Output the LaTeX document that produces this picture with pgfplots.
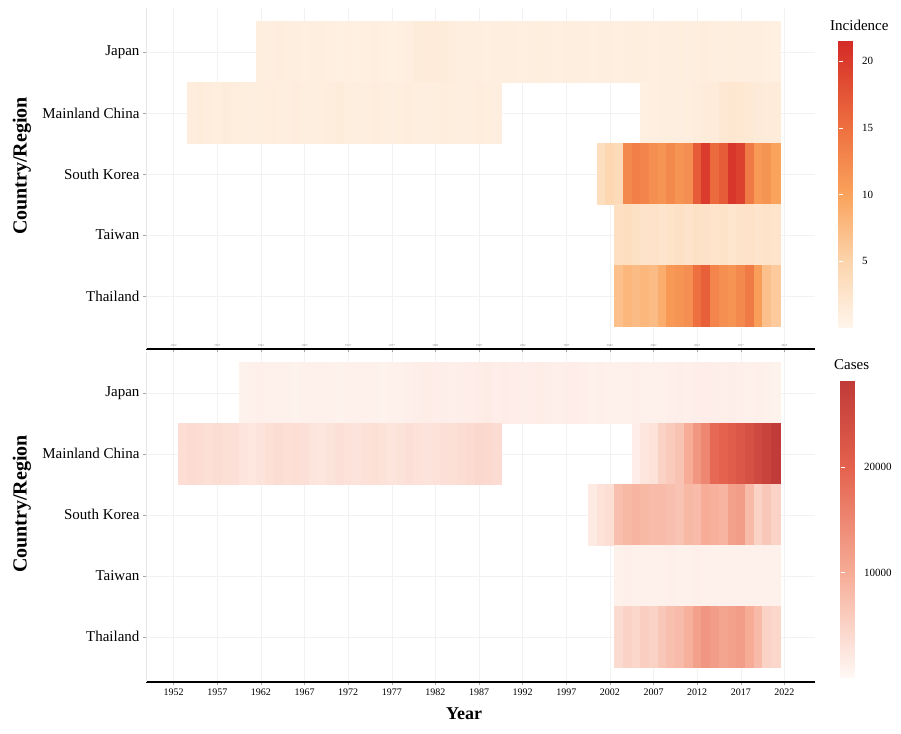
\documentclass[border=0pt]{standalone}
\usepackage{fontspec}
\setmainfont{Liberation Serif}
\usepackage{pgfplots}
\pgfplotsset{compat=1.18}
\usepackage{pgfplotstable}

\pgfplotsset{
  colormap={incid}{rgb255(0pt)=(255,245,236) rgb255(50pt)=(252,212,172) rgb255(100pt)=(250,163,92) rgb255(150pt)=(238,112,64) rgb255(216pt)=(212,42,38)},
  colormap={cases}{rgb255(0pt)=(255,249,246) rgb255(100pt)=(246,172,150) rgb255(200pt)=(228,98,78) rgb255(283pt)=(192,58,55)},
}

% row: Japan=5, Mainland China=4, South Korea=3, Taiwan=2, Thailand=1
\pgfplotstableread{
year row val
1962 5 1.1
1963 5 1.0
1964 5 1.2
1965 5 1.1
1966 5 1.0
1967 5 0.9
1968 5 1.0
1969 5 1.1
1970 5 0.9
1971 5 0.8
1972 5 0.9
1973 5 0.8
1974 5 0.9
1975 5 1.0
1976 5 0.9
1977 5 0.8
1978 5 0.9
1979 5 1.0
1980 5 1.3
1981 5 1.4
1982 5 1.5
1983 5 1.3
1984 5 1.2
1985 5 1.0
1986 5 1.1
1987 5 1.0
1988 5 0.9
1989 5 1.0
1990 5 1.1
1991 5 1.0
1992 5 0.9
1993 5 1.0
1994 5 1.1
1995 5 1.0
1996 5 0.9
1997 5 1.0
1998 5 1.1
1999 5 1.0
2000 5 0.9
2001 5 1.0
2002 5 1.0
2003 5 0.9
2004 5 1.0
2005 5 1.1
2006 5 1.0
2007 5 0.9
2008 5 1.0
2009 5 1.0
2010 5 1.1
2011 5 1.0
2012 5 1.1
2013 5 1.2
2014 5 1.1
2015 5 1.0
2016 5 1.1
2017 5 1.0
2018 5 1.0
2019 5 1.1
2020 5 0.9
2021 5 0.8
1954 4 1.2
1955 4 1.3
1956 4 1.2
1957 4 1.1
1958 4 1.3
1959 4 1.2
1960 4 1.1
1961 4 1.0
1962 4 1.1
1963 4 1.2
1964 4 1.1
1965 4 1.0
1966 4 1.2
1967 4 1.1
1968 4 1.0
1969 4 1.1
1970 4 1.2
1971 4 1.3
1972 4 1.1
1973 4 1.0
1974 4 1.1
1975 4 1.2
1976 4 1.1
1977 4 1.0
1978 4 1.1
1979 4 1.2
1980 4 1.1
1981 4 1.0
1982 4 1.1
1983 4 1.2
1984 4 1.1
1985 4 1.0
1986 4 1.1
1987 4 1.2
1988 4 1.1
1989 4 1.0
2006 4 0.8
2007 4 0.9
2008 4 1.0
2009 4 1.1
2010 4 1.0
2011 4 1.1
2012 4 1.2
2013 4 1.3
2014 4 1.5
2015 4 1.9
2016 4 2.1
2017 4 2.0
2018 4 1.8
2019 4 1.6
2020 4 1.4
2021 4 1.5
2001 3 3.5
2002 3 4.5
2003 3 4.0
2004 3 12.5
2005 3 13.5
2006 3 13.0
2007 3 12.0
2008 3 11.5
2009 3 12.5
2010 3 11.5
2011 3 12.0
2012 3 17.0
2013 3 20.0
2014 3 15.5
2015 3 17.0
2016 3 20.5
2017 3 19.5
2018 3 14.0
2019 3 11.0
2020 3 11.5
2021 3 10.0
2003 2 3.3
2004 2 3.5
2005 2 3.1
2006 2 2.7
2007 2 2.9
2008 2 2.5
2009 2 2.8
2010 2 3.0
2011 2 2.7
2012 2 3.1
2013 2 2.9
2014 2 2.6
2015 2 2.8
2016 2 2.4
2017 2 2.7
2018 2 2.9
2019 2 2.5
2020 2 2.7
2021 2 2.6
2003 1 7.0
2004 1 8.0
2005 1 7.5
2006 1 8.0
2007 1 7.5
2008 1 9.0
2009 1 11.0
2010 1 11.5
2011 1 12.0
2012 1 15.0
2013 1 16.5
2014 1 13.0
2015 1 12.0
2016 1 11.5
2017 1 12.5
2018 1 14.0
2019 1 10.5
2020 1 7.0
2021 1 6.0
}\incid

\pgfplotstableread{
year row val
1960 5 900
1961 5 1100
1962 5 1300
1963 5 1200
1964 5 1000
1965 5 1100
1966 5 900
1967 5 1000
1968 5 1200
1969 5 1100
1970 5 1000
1971 5 900
1972 5 1000
1973 5 1100
1974 5 1200
1975 5 1000
1976 5 900
1977 5 1000
1978 5 1100
1979 5 1300
1980 5 1400
1981 5 1600
1982 5 1500
1983 5 1400
1984 5 1300
1985 5 1400
1986 5 1500
1987 5 1600
1988 5 1700
1989 5 1500
1990 5 1600
1991 5 1500
1992 5 1400
1993 5 1500
1994 5 1600
1995 5 1400
1996 5 1300
1997 5 1400
1998 5 1500
1999 5 1300
2000 5 1200
2001 5 1300
2002 5 1200
2003 5 1100
2004 5 1200
2005 5 1300
2006 5 1200
2007 5 1100
2008 5 1200
2009 5 1300
2010 5 1400
2011 5 1300
2012 5 1400
2013 5 1500
2014 5 1400
2015 5 1300
2016 5 1400
2017 5 1300
2018 5 1200
2019 5 1300
2020 5 1000
2021 5 900
1953 4 3500
1954 4 3800
1955 4 3600
1956 4 3300
1957 4 3700
1958 4 3400
1959 4 3200
1960 4 2600
1961 4 2400
1962 4 2800
1963 4 3400
1964 4 3600
1965 4 3300
1966 4 3500
1967 4 3200
1968 4 2600
1969 4 2500
1970 4 2900
1971 4 3200
1972 4 3000
1973 4 2800
1974 4 3100
1975 4 3300
1976 4 3000
1977 4 2700
1978 4 2900
1979 4 3200
1980 4 3000
1981 4 2800
1982 4 3000
1983 4 3200
1984 4 3400
1985 4 3600
1986 4 4000
1987 4 4300
1988 4 4100
1989 4 3800
2005 4 1500
2006 4 2500
2007 4 3000
2008 4 5000
2009 4 6000
2010 4 7000
2011 4 10000
2012 4 13000
2013 4 15000
2014 4 19000
2015 4 20000
2016 4 21000
2017 4 22000
2018 4 23500
2019 4 25000
2020 4 26500
2021 4 28000
2000 3 2000
2001 3 3000
2002 3 3500
2003 3 7500
2004 3 8500
2005 3 9000
2006 3 8500
2007 3 8000
2008 3 8000
2009 3 7500
2010 3 7000
2011 3 8500
2012 3 8000
2013 3 10000
2014 3 9500
2015 3 9000
2016 3 11500
2017 3 12000
2018 3 8000
2019 3 5000
2020 3 6500
2021 3 5000
2003 2 1200
2004 2 1300
2005 2 1100
2006 2 1000
2007 2 1200
2008 2 1100
2009 2 1300
2010 2 1200
2011 2 1100
2012 2 1300
2013 2 1200
2014 2 1100
2015 2 1200
2016 2 1000
2017 2 1100
2018 2 1200
2019 2 1000
2020 2 1100
2021 2 1000
2003 1 4000
2004 1 5000
2005 1 4500
2006 1 5500
2007 1 5000
2008 1 6500
2009 1 7500
2010 1 8000
2011 1 9500
2012 1 11500
2013 1 13000
2014 1 12000
2015 1 11000
2016 1 11500
2017 1 12000
2018 1 10000
2019 1 8000
2020 1 5000
2021 1 4500
}\cases

\pgfplotsset{
  heat/.style={
    scale only axis, width=669pt,
    xmin=1948.83, xmax=2025.51,
    ytick={1,2,3,4,5},
    yticklabels={Thailand,Taiwan,South Korea,Mainland China,Japan},
    xtick={1952,1957,...,2022},
    axis x line*=bottom, axis y line*=left,
    x axis line style={black, line width=1.2pt},
    y axis line style={gray!20, line width=0.5pt},
    tick align=outside,
    major tick length=3pt,
    ytick style={gray!70, line width=0.5pt},
    xtick style={gray!70, line width=0.5pt},
    grid=major, grid style={gray!10, line width=0.5pt},
    yticklabel style={font=\fontsize{15}{15}\selectfont},
    /pgf/number format/assume math mode=true,
    /pgf/number format/1000 sep={},
  },
  tiles/.style={scatter, only marks, mark=square*, mark size=4.4pt,
    mark options={yscale=6.95, line width=0.2pt},
    scatter/use mapped color={draw=mapped color, fill=mapped color},
    point meta=explicit},
  cbar/.style={
    scale only axis, width=20pt,
    axis line style={draw=none},
    ytick pos=both, yticklabel pos=right,
    tick align=inside, major tick length=4pt,
    ytick style={white, line width=0.8pt},
    grid=none, scaled y ticks=false,
    yticklabel style={font=\fontsize{11}{11}\selectfont,
      /pgf/number format/assume math mode=true,
      /pgf/number format/fixed, /pgf/number format/1000 sep={}},
  },
}

\begin{document}
\begin{tikzpicture}
\useasboundingbox (0,0) rectangle (901pt,733pt);

\begin{axis}[heat,
  at={(146pt,384pt)}, anchor=south west, height=341pt,
  ymin=0.13, ymax=5.72,
  colormap name=incid, point meta min=0, point meta max=21.6,
  xticklabel style={font=\fontsize{3}{3}\selectfont, yshift=11pt, gray},
  colorbar,
  colorbar style={cbar, height=288pt,
    at={(parent axis.north east)}, anchor=north west, xshift=15pt, yshift=-32pt,
    ytick={5,10,15,20}},
]
\addplot[tiles] table[x=year, y=row, meta=val] {\incid};
\end{axis}

\begin{axis}[heat,
  at={(146pt,51pt)}, anchor=south west, height=330pt,
  ymin=0.26, ymax=5.67,
  colormap name=cases, point meta min=0, point meta max=28300,
  xticklabel style={font=\fontsize{10}{10}\selectfont},
  colorbar,
  colorbar style={cbar, height=298pt,
    at={(parent axis.north east)}, anchor=north west, xshift=17pt, yshift=-28pt,
    ytick={10000,20000}},
]
\addplot[tiles] table[x=year, y=row, meta=val] {\cases};
\end{axis}

\node[rotate=90, font=\bfseries\fontsize{20}{20}\selectfont] at (22pt,567pt) {Country/Region};
\node[rotate=90, font=\bfseries\fontsize{20}{20}\selectfont] at (22pt,229pt) {Country/Region};
\node[font=\bfseries\fontsize{18}{18}\selectfont] at (464pt,19pt) {Year};
\node[anchor=west, font=\fontsize{15}{15}\selectfont, inner sep=0pt] at (830pt,708pt) {Incidence};
\node[anchor=west, font=\fontsize{15}{15}\selectfont, inner sep=0pt] at (834pt,368pt) {Cases};
\end{tikzpicture}
\end{document}
